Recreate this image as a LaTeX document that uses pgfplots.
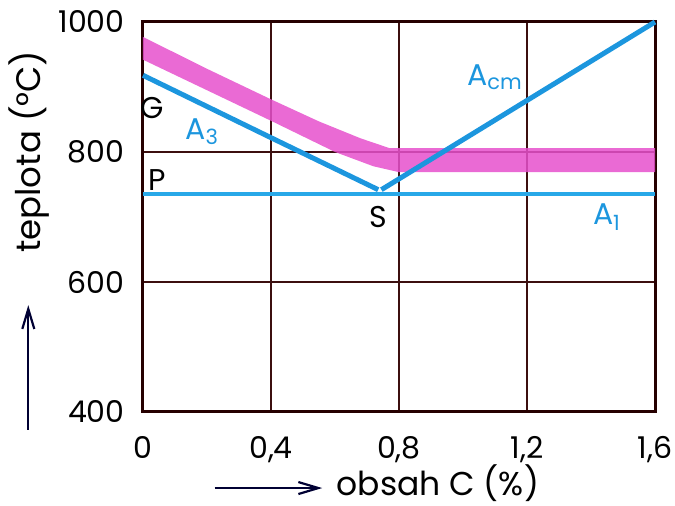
\documentclass[border=0pt]{standalone}
\usepackage{pgfplots}
\pgfplotsset{compat=1.18}
\usetikzlibrary{arrows.meta}
\usepackage{fontspec}
\setmainfont{Poppins}
\definecolor{linblue}{RGB}{28,150,222}
\definecolor{aoneblue}{RGB}{40,168,232}
\definecolor{bandpink}{RGB}{230,80,205}
\definecolor{gridbrown}{RGB}{60,15,15}
\begin{document}
\fontsize{15}{18}\selectfont
\begin{tikzpicture}
\useasboundingbox (-71.5pt,-47pt) rectangle (266pt,206pt);
\begin{axis}[
  at={(0,0)}, anchor=south west,
  scale only axis, width=256pt, height=195pt,
  xmin=0, xmax=1.6, ymin=400, ymax=1000,
  xtick={0,0.4,0.8,1.2,1.6},
  xticklabels={0,{0,4},{0,8},{1,2},{1,6}},
  ytick={400,600,800,1000},
  yticklabels={400,600,800,1000},
  major grid style={gridbrown, line width=0.8pt},
  grid=major,
  axis line style={black!85!red, line width=1.5pt},
  tick style={draw=none},
  xticklabel style={yshift=-7pt},
  yticklabel style={xshift=-4pt},
  clip=false,
]
% ferrite/austenite transformation band (heating range)
\addplot[fill=bandpink, fill opacity=0.85, draw=none] coordinates {
  (0,977) (0.2,928) (0.4,881) (0.55,847) (0.68,821) (0.77,806) (1.6,806)
  (1.6,769) (0.8,769) (0.72,778) (0.6,800) (0.4,848) (0.2,895) (0,942)
} -- cycle;
% A1 line
\addplot[aoneblue, line width=2pt] coordinates {(0,735) (1.6,735)};
% A3 line
\addplot[linblue, line width=2.5pt] coordinates {(0,918) (0.4,822) (0.735,742)};
% Acm line
\addplot[linblue, line width=2.5pt] coordinates {(0.745,742) (1.6,1000)};
% point and line labels
\node at (axis cs:0.03,868) {G};
\node at (axis cs:0.045,757) {P};
\node at (axis cs:0.734,700) {S};
\node[linblue] at (axis cs:0.185,831) {A\textsubscript{3}};
\node[linblue] at (axis cs:1.45,700) {A\textsubscript{1}};
\node[linblue] at (axis cs:1.1,915) {A\textsubscript{cm}};
% axis titles with arrows
\node[font=\fontsize{16.5}{19}\selectfont] at (axis description cs:0.576,-0.182) {obsah C (\%)};
\draw[-{Straight Barb[length=10pt,width=6pt]}, line width=1.1pt, black!80!blue]
  (axis description cs:0.14,-0.195) -- (axis description cs:0.35,-0.195);
\node[rotate=90, font=\fontsize{17}{20}\selectfont] at (axis description cs:-0.222,0.667) {teplota (°C)};
\draw[-{Straight Barb[length=10pt,width=6pt]}, line width=1.1pt, black!80!blue]
  (axis description cs:-0.224,-0.046) -- (axis description cs:-0.224,0.274);
\end{axis}
\end{tikzpicture}
\end{document}
